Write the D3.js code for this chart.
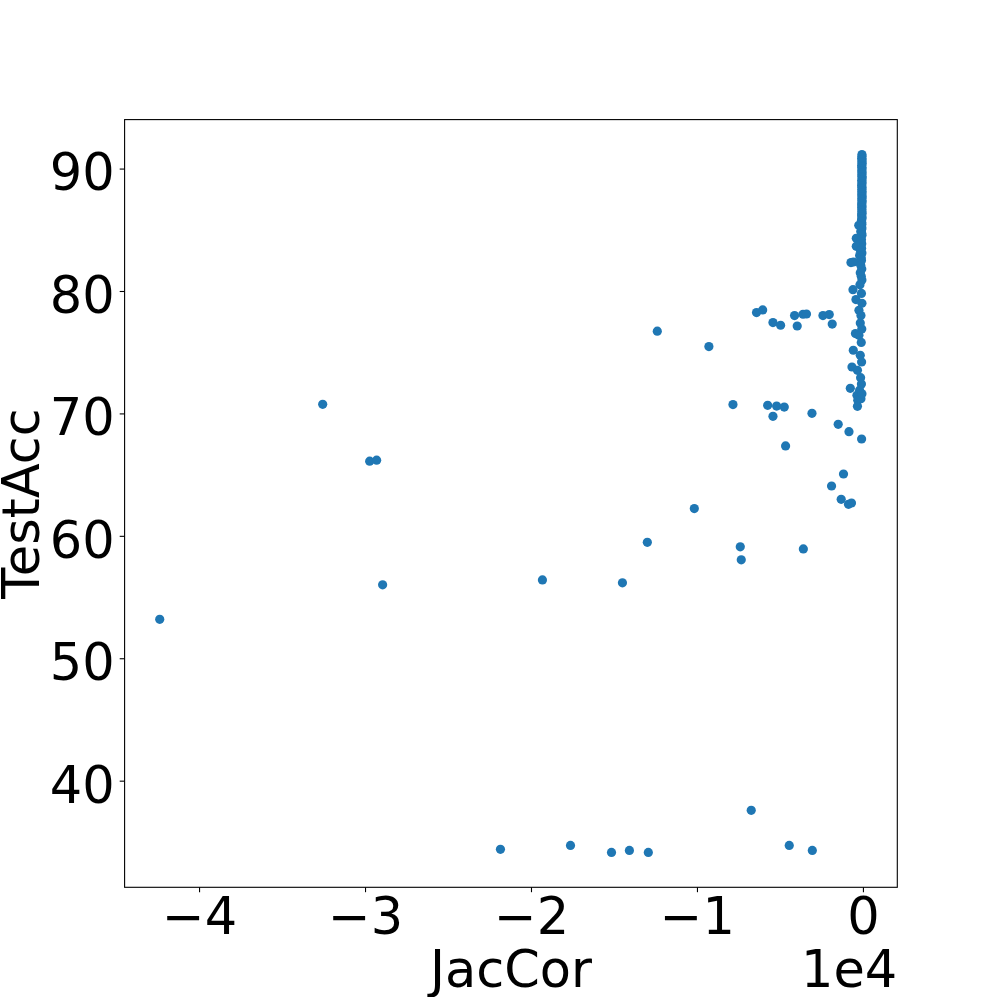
<!DOCTYPE html>
<html>
<head>
<meta charset="utf-8">
<script src="https://cdn.jsdelivr.net/npm/d3@7"></script>
<style>
  body { margin: 0; background: #fff; }
  text { font-family: "DejaVu Sans", sans-serif; fill: #000; }
</style>
</head>
<body>
<div id="chart"></div>
<script>
// Scattered points away from the main column (JacCor raw value, TestAcc)
const outlierJac = [-42370, -32550, -29720, -29300, -28940, -21840, -19310, -17620, -15150, -14490,
    -14070, -12930, -12990, -12390, -10160, -9280, -7830, -7390, -7330, -6730,
    -6410, -6040, -5740, -5420, -5420, -5200, -4960, -4740, -4660, -4440,
    -4120, -3960, -3610, -3400, -3590, -3070, -3050, -2410, -2030, -1850,
    -1890, -1490, -1170, -1310, -840, -870, -690, -80];
const outlierAcc = [53.18, 70.74, 66.10, 66.18, 56.00, 34.39, 56.40, 34.71, 34.14, 56.16,
    34.30, 34.14, 59.47, 76.72, 62.23, 75.46, 70.72, 59.10, 58.04, 37.58,
    78.24, 78.45, 70.66, 77.42, 69.76, 70.60, 77.20, 70.52, 67.34, 34.71,
    77.99, 77.14, 78.10, 78.12, 58.93, 70.01, 34.30, 77.99, 78.07, 77.30,
    64.07, 69.11, 65.05, 62.98, 68.51, 62.57, 62.68, 67.91];

// Dense column next to zero
const columnJac = [-60, -55, -70, -50, -65, -45, -75, -60, -55, -70,
    -50, -65, -60, -45, -70, -55, -60, -75, -50, -65,
    -60, -55, -70, -45, -65, -60, -50, -75, -55, -70,
    -60, -65, -50, -80, -55, -60, -90, -70, -65, -110,
    -60, -80, -130, -70, -250, -60, -400, -90, -120, -70,
    -400, -80, -150, -60, -200, -100, -720, -570, -90, -130,
    -70, -160, -100, -60, -600, -180, -420, -90, -240, -60,
    -160, -120, -450, -240, -70, -580, -160, -100, -660, -330,
    -140, -80, -760, -360, -310, -200, -330, -90, -120, -60];
const columnAcc = [91.15, 91.00, 90.85, 90.72, 90.55, 90.42, 90.25, 90.10, 89.96, 89.80,
    89.66, 89.50, 89.35, 89.22, 89.05, 88.90, 88.76, 88.60, 88.45, 88.32,
    88.15, 88.00, 87.86, 87.70, 87.55, 87.40, 87.26, 87.10, 86.95, 86.82,
    86.65, 86.50, 86.36, 86.20, 86.05, 85.90, 85.75, 85.60, 85.45, 85.30,
    85.15, 85.00, 84.85, 84.70, 85.37, 84.55, 84.31, 84.20, 84.00, 83.85,
    83.65, 83.50, 83.30, 83.10, 82.90, 82.70, 82.32, 82.37, 82.50, 82.10,
    81.80, 81.50, 81.20, 80.90, 80.11, 80.50, 79.30, 79.80, 78.42, 79.00,
    77.39, 78.00, 76.52, 76.38, 76.90, 75.16, 74.75, 75.80, 73.79, 73.52,
    72.92, 74.20, 72.05, 71.48, 71.07, 71.90, 70.58, 72.40, 71.20, 71.60];

const xTicks = [-40000, -30000, -20000, -10000, 0];
const yTicks = [40, 50, 60, 70, 80, 90];

const points = outlierJac.map((v, i) => ({ x: v, y: outlierAcc[i] }))
    .concat(columnJac.map((v, i) => ({ x: v, y: columnAcc[i] })));

const W = 997, H = 997;
const margin = { top: 119.6, right: 99.7, bottom: 109.7, left: 124.6 };
const width = W - margin.left - margin.right,
      height = H - margin.top - margin.bottom;
const fs = 51;

const svg = d3.select("#chart").append("svg")
    .attr("width", W).attr("height", H);
const g = svg.append("g")
    .attr("transform", `translate(${margin.left},${margin.top})`);

// 5% padding like matplotlib
const pad = (ext) => { const s = ext[1] - ext[0]; return [ext[0] - 0.05 * s, ext[1] + 0.05 * s]; };
const x = d3.scaleLinear().domain(pad(d3.extent(points, d => d.x))).range([0, width]);
const y = d3.scaleLinear().domain(pad(d3.extent(points, d => d.y))).range([height, 0]);

const minus = s => s.replace("-", "\u2212");

const xAxis = g.append("g")
    .attr("transform", `translate(0,${height})`)
    .call(d3.axisBottom(x).tickValues(xTicks).tickSize(4.9).tickPadding(6)
        .tickFormat(d => minus(String(d / 1e4))));
const yAxis = g.append("g")
    .call(d3.axisLeft(y).tickValues(yTicks).tickSize(4.9).tickPadding(5)
        .tickFormat(d => String(d)));

[xAxis, yAxis].forEach(a => {
    a.select(".domain").remove();
    a.selectAll(".tick line").attr("stroke", "#000").attr("stroke-width", 1.1);
    a.selectAll(".tick text").style("font-family", "DejaVu Sans").style("font-size", fs + "px").attr("fill", "#000");
});
yAxis.selectAll(".tick text").attr("dy", "0.42em");

g.selectAll("circle.pt")
    .data(points)
    .enter()
    .append("circle")
    .attr("class", "pt")
    .attr("cx", d => x(d.x))
    .attr("cy", d => y(d.y))
    .attr("r", 4.6)
    .attr("fill", "#1f77b4");

// frame
g.append("rect")
    .attr("width", width).attr("height", height)
    .attr("fill", "none").attr("stroke", "#000").attr("stroke-width", 1.1);

// labels
svg.append("text")
    .attr("x", margin.left + width / 2).attr("y", 987)
    .attr("text-anchor", "middle")
    .style("font-size", fs + "px")
    .text("JacCor");

svg.append("text")
    .attr("x", margin.left + width).attr("y", 987)
    .attr("text-anchor", "end")
    .style("font-size", fs + "px")
    .text("1e4");

svg.append("text")
    .attr("transform", `translate(39,${margin.top + height / 2}) rotate(-90)`)
    .attr("text-anchor", "middle")
    .style("font-size", fs + "px")
    .text("TestAcc");
</script>
</body>
</html>
